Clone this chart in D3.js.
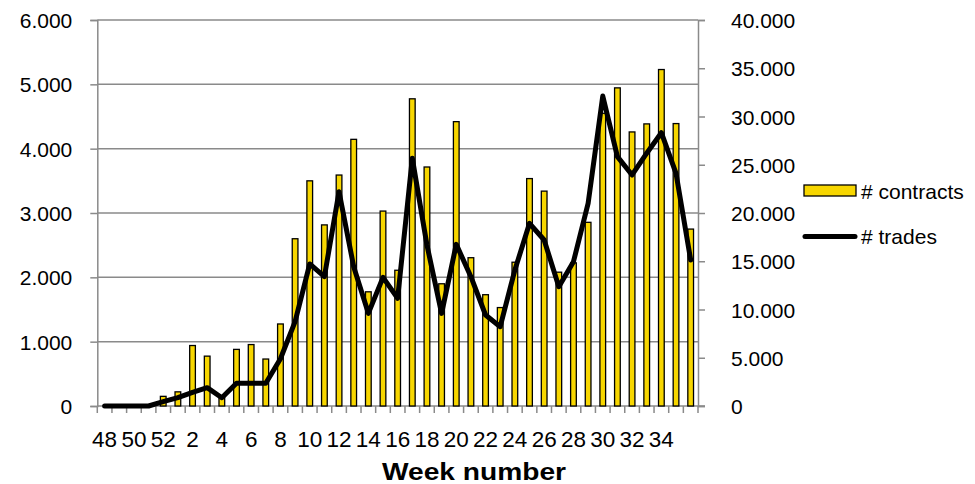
<!DOCTYPE html>
<html>
<head>
<meta charset="utf-8">
<script src="https://cdn.jsdelivr.net/npm/d3@7"></script>
<style>
  body { margin: 0; background: #fff; }
  text { font-family: "Liberation Sans", Arial, sans-serif; fill: #000; }
</style>
</head>
<body>
<div id="chart-area"></div>
<script>
// week numbers, end of one year into the next
const weeks = [48, 49, 50, 51, 52, 1, 2, 3, 4, 5, 6, 7, 8, 9, 10, 11, 12, 13, 14, 15, 16,
  17, 18, 19, 20, 21, 22, 23, 24, 25, 26, 27, 28, 29, 30, 31, 32, 33, 34, 35, 36];
const weekLabels = [48, 50, 52, 2, 4, 6, 8, 10, 12, 14, 16, 18, 20, 22, 24, 26, 28, 30, 32, 34];

const contracts = [0, 0, 0, 0, 150, 220, 940, 775, 130, 880, 955, 730, 1275, 2600, 3500,
  2815, 3590, 4145, 1775, 3030, 2110, 4775, 3715, 1900, 4420, 2305, 1730, 1530, 2235,
  3535, 3340, 2080, 2225, 2855, 4550, 4945, 4260, 4385, 5230, 4390, 2750];
const trades = [0, 0, 0, 0, 450, 860, 1420, 1900, 860, 2350, 2350, 2350, 4900, 8740,
  14720, 13400, 22210, 14440, 9600, 13330, 11160, 25670, 16680, 9600, 16750, 13400,
  9430, 8220, 14090, 18930, 17200, 12360, 14950, 21000, 32120, 25840, 23940, 26200,
  28320, 24110, 15130];

const leftTicks = [0, 1000, 2000, 3000, 4000, 5000, 6000];
const rightTicks = [0, 5000, 10000, 15000, 20000, 25000, 30000, 35000, 40000];

const w = 975, h = 484;
const m = { t: 20, l: 97.3, r: 277, b: 78 };
const plotR = w - m.r;
const plotB = h - m.b;

const loc = d3.formatLocale({ decimal: ",", thousands: ".", grouping: [3], currency: ["", ""] });
const fmt = loc.format(",d");

const svg = d3.select("#chart-area").append("svg")
  .attr("width", w)
  .attr("height", h);

const x = d3.scaleBand().domain(weeks).range([m.l, plotR]);
const yL = d3.scaleLinear().domain([0, 6000]).range([plotB, m.t]);
const yR = d3.scaleLinear().domain([0, 40000]).range([plotB, m.t]);

const gridCol = "#8a8a8a";
const gold = "#f7d600";

// gridlines
svg.append("g").selectAll("line")
  .data(leftTicks.slice(1))
  .enter().append("line")
  .attr("x1", m.l).attr("x2", plotR)
  .attr("y1", d => yL(d)).attr("y2", d => yL(d))
  .attr("stroke", gridCol).attr("stroke-width", 1.5);

// left axis
const leftAxis = svg.append("g")
  .attr("transform", "translate(" + m.l + ",0)")
  .call(d3.axisLeft(yL).tickValues(leftTicks).tickFormat(fmt).tickSize(7).tickPadding(18));
// right axis
const rightAxis = svg.append("g")
  .attr("transform", "translate(" + plotR + ",0)")
  .call(d3.axisRight(yR).tickValues(rightTicks).tickFormat(fmt).tickSize(7).tickPadding(26));
[leftAxis, rightAxis].forEach(a => {
  a.select(".domain").attr("stroke", gridCol).attr("stroke-width", 1.5);
  a.selectAll(".tick line").attr("stroke", gridCol).attr("stroke-width", 1.5);
  a.selectAll(".tick text").attr("font-size", "21px").attr("dy", "0.36em");
});

// bottom axis: ticks between categories
const bottom = svg.append("g");
bottom.append("line")
  .attr("x1", m.l).attr("x2", plotR + 7)
  .attr("y1", plotB).attr("y2", plotB)
  .attr("stroke", gridCol).attr("stroke-width", 1.5);
bottom.selectAll(".bt")
  .data(weeks.concat(["end"]))
  .enter().append("line")
  .attr("class", "bt")
  .attr("x1", d => d === "end" ? plotR : x(d))
  .attr("x2", d => d === "end" ? plotR : x(d))
  .attr("y1", plotB).attr("y2", plotB + 7)
  .attr("stroke", gridCol).attr("stroke-width", 1.5);
bottom.selectAll(".bl")
  .data(weekLabels)
  .enter().append("text")
  .attr("x", d => x(d) + x.bandwidth() / 2)
  .attr("y", 447)
  .attr("text-anchor", "middle")
  .attr("font-size", "22.5px")
  .text(d => d);

svg.append("text")
  .attr("x", 474)
  .attr("y", 480)
  .attr("text-anchor", "middle")
  .attr("font-size", "24px")
  .attr("font-weight", "bold")
  .attr("textLength", 184)
  .attr("lengthAdjust", "spacingAndGlyphs")
  .text("Week number");

// bars
const barW = 5.7;
svg.append("g").selectAll("rect")
  .data(weeks)
  .enter().append("rect")
  .attr("x", (d, i) => x(d) + (x.bandwidth() - barW) / 2)
  .attr("width", barW)
  .attr("y", (d, i) => yL(contracts[i]))
  .attr("height", (d, i) => plotB - yL(contracts[i]))
  .attr("fill", gold)
  .attr("stroke", "#000")
  .attr("stroke-width", 1.3);

// line
const line = d3.line()
  .x((d, i) => x(weeks[i]) + x.bandwidth() / 2)
  .y(d => yR(d));
svg.append("path")
  .datum(trades)
  .attr("d", line)
  .attr("fill", "none")
  .attr("stroke", "#000")
  .attr("stroke-width", 5)
  .attr("stroke-linejoin", "round")
  .attr("stroke-linecap", "round");

// legend
const lg = svg.append("g");
lg.append("rect")
  .attr("x", 804).attr("y", 185)
  .attr("width", 52).attr("height", 11)
  .attr("fill", gold).attr("stroke", "#000").attr("stroke-width", 1.3);
lg.append("text")
  .attr("x", 861).attr("y", 191).attr("dy", "0.36em")
  .attr("font-size", "21px")
  .text("# contracts");
lg.append("line")
  .attr("x1", 805).attr("x2", 855)
  .attr("y1", 236.5).attr("y2", 236.5)
  .attr("stroke", "#000").attr("stroke-width", 5).attr("stroke-linecap", "round");
lg.append("text")
  .attr("x", 861).attr("y", 236.5).attr("dy", "0.36em")
  .attr("font-size", "21px")
  .text("# trades");
</script>
</body>
</html>
